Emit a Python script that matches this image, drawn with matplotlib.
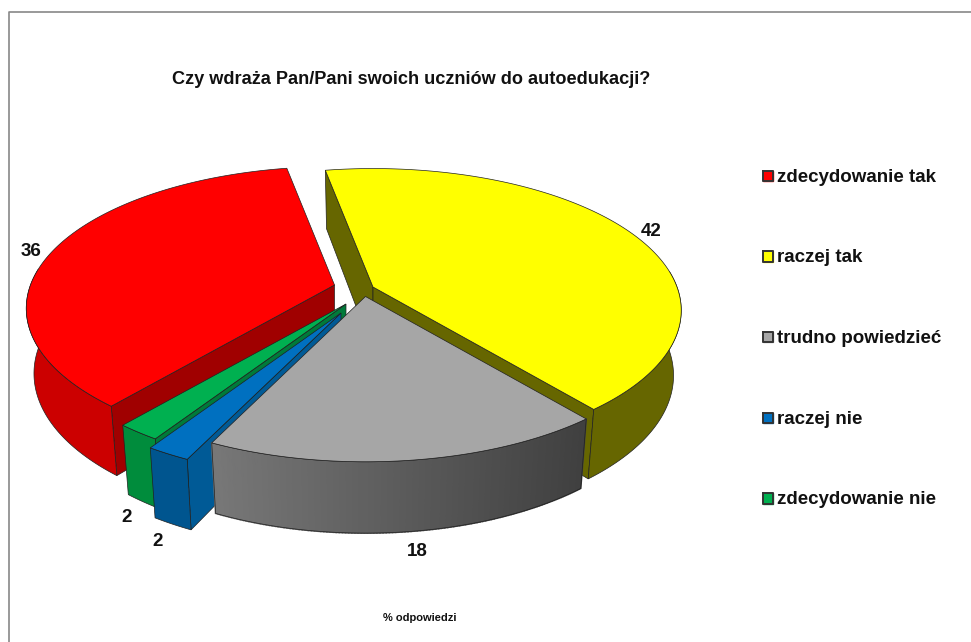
import numpy as np
import matplotlib
matplotlib.use("Agg")
import matplotlib.pyplot as plt
from matplotlib.patches import Polygon

plt.rcParams['font.family'] = ['Liberation Sans', 'DejaVu Sans']

title = "Czy wdraża Pan/Pani swoich uczniów do autoedukacji?"
xlabel = "% odpowiedzi"
categories = ["zdecydowanie tak", "raczej tak", "trudno powiedzieć", "raczej nie", "zdecydowanie nie"]
values = [36, 42, 18, 2, 2]

top_colors = ["#ff0000", "#ffff00", "#a6a6a6", "#0070c0", "#00b050"]
arc_colors = ["#cc0000", "#666600", None, "#00558f", "#008c3c"]
cut_colors = ["#a00000", "#666600", "#707070", "#005a96", "#007a3a"]

# apex of every slice on the canvas (exploded pie)
apex = [(334.5, 285), (373, 287), (365.5, 296.5), (341, 313), (346, 304)]
label_pos = [(31, 252), (651, 232), (417, 551), (158, 542), (127, 517)]
draw_order = [0, 1, 4, 3, 2]
# which radial walls can be seen (start, end of the slice)
show_cut = [(True, False), (True, True), (False, False), (True, False), (True, False)]

a, b, k = 304.0, 138.0, 0.165
h = 64.0
start_deg = -10.5 + 360 - 129.6  # red starts here, clockwise


def project(phi, r, cx, cy, bottom=False):
    X = r * np.sin(phi)
    Y = -r * np.cos(phi)
    s = 1.0 / (1.0 - k * Y)
    px = a * X * s
    py = b * Y * s
    if bottom:
        px = px * 0.975
        py = py + h * s ** 0.6
    return cx + px, cy + py


fig = plt.figure(figsize=(9.71, 6.42), dpi=100)
ax = fig.add_axes([0, 0, 1, 1])
ax.set_xlim(0, 971)
ax.set_ylim(642, 0)
ax.axis('off')

# frame is only visible on the top and left
ax.plot([8.5, 8.5, 971], [642, 11.5, 11.5], color='#888888', lw=1.2)

edge = '#202020'
lw = 0.5
fracs = np.array(values) / np.sum(values) * 360.0
starts = start_deg + np.concatenate([[0], np.cumsum(fracs)[:-1]])
# slices run clockwise: red, yellow, grey, blue, green
for i in draw_order:
    cx, cy = apex[i]
    th0 = np.radians(starts[i])
    th1 = np.radians(starts[i] + fracs[i])
    th = np.linspace(th0, th1, max(int(fracs[i] * 2), 6))
    xt, yt = project(th, 1.0, cx, cy)
    xb, yb = project(th, 1.0, cx, cy, bottom=True)
    ax0, ay0 = project(0.0, 0.0, cx, cy)
    bx0, by0 = project(0.0, 0.0, cx, cy, bottom=True)

    # radial cut walls
    for n, idx in enumerate([0, -1]):
        if show_cut[i][n]:
            ax.add_patch(Polygon([(ax0, ay0), (xt[idx], yt[idx]), (xb[idx], yb[idx]), (bx0, by0)],
                                 closed=True, fc=cut_colors[i], ec=edge, lw=lw))

    # outer wall, only the part facing us
    front = np.cos(th) < 0.12
    if front.any():
        xtf, ytf, xbf, ybf = xt[front], yt[front], xb[front], yb[front]
        if arc_colors[i] is None:
            # grey slice has a gradient going darker to the right
            n = len(xtf)
            for j in range(n - 1):
                g = 0.47 - 0.22 * (xtf[j] - xtf.min()) / (xtf.max() - xtf.min())
                ax.add_patch(Polygon([(xtf[j], ytf[j]), (xtf[j + 1], ytf[j + 1]),
                                      (xbf[j + 1], ybf[j + 1]), (xbf[j], ybf[j])],
                                     closed=True, fc=(g, g, g), ec=(g, g, g), lw=1.2))
            outline = np.column_stack([np.r_[xtf, xbf[::-1]], np.r_[ytf, ybf[::-1]]])
            ax.add_patch(Polygon(outline, closed=True, fc='none', ec=edge, lw=lw))
        else:
            poly = np.column_stack([np.r_[xtf, xbf[::-1]], np.r_[ytf, ybf[::-1]]])
            ax.add_patch(Polygon(poly, closed=True, fc=arc_colors[i], ec=edge, lw=lw))

    # top face
    poly = np.column_stack([np.r_[ax0, xt], np.r_[ay0, yt]])
    ax.add_patch(Polygon(poly, closed=True, fc=top_colors[i], ec=edge, lw=lw))

ax.text(411, 79.5, title, ha='center', va='center', fontsize=13.1, fontweight='bold', color='#111111')
ax.text(420, 618, xlabel, ha='center', va='center', fontsize=8, fontweight='bold', color='#111111')

for i, v in enumerate(values):
    ax.text(label_pos[i][0], label_pos[i][1], str(v), ha='center', va='center',
            fontsize=13.5, fontweight='bold', color='#111111')

for i, name in enumerate(categories):
    y = 175.5 + i * 80.7
    ax.plot([762.5, 773, 773, 762.5, 762.5], [y - 5, y - 5, y + 5.5, y + 5.5, y - 5], color='#333333', lw=1.2)
    ax.fill([762.5, 773, 773, 762.5], [y - 5, y - 5, y + 5.5, y + 5.5], color=top_colors[i])
    ax.plot([762.5, 773, 773, 762.5, 762.5], [y - 5, y - 5, y + 5.5, y + 5.5, y - 5], color='#333333', lw=1.2)
    ax.text(777, y + 1.5, name, ha='left', va='center', fontsize=13.5, fontweight='bold', color='#111111')

fig.savefig('out.png', dpi=100)
